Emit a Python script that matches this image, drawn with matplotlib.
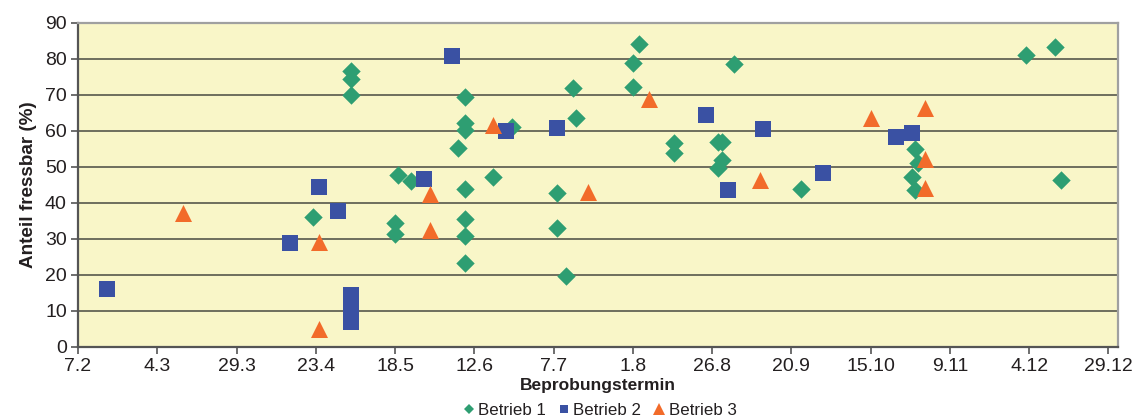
import matplotlib
matplotlib.use("Agg")
import matplotlib.pyplot as plt
from matplotlib.lines import Line2D

plt.rcParams['font.family'] = ['Liberation Sans', 'DejaVu Sans']

# Day of year (non-leap year) for the sampling dates, and share edible (%)
b1_day = [124, 124, 124, 112, 139, 138, 138, 143, 158, 160, 160, 160, 160, 160, 160, 160,
          169, 175, 189, 189, 192, 194, 195, 213, 215, 213, 226, 226, 240, 241, 241, 240,
          245, 266, 302, 303, 301, 302, 337, 346, 348]
b1_val = [76.7, 74.4, 70.0, 36.2, 47.8, 34.4, 31.4, 46.1, 55.4, 69.5, 62.1, 60.3, 43.9, 35.5, 30.8, 23.4,
          47.3, 61.2, 42.9, 33.1, 19.7, 71.8, 63.5, 79.0, 84.3, 72.3, 56.6, 54.0, 57.0, 57.0, 51.9, 49.6,
          78.5, 43.8, 55.0, 51.0, 47.2, 43.6, 81.1, 83.3, 46.4]

b2_day = [47, 105, 114, 120, 124, 124, 124, 124, 147, 156, 173, 189, 236, 243, 254, 273, 296, 301]
b2_val = [16.1, 28.9, 44.4, 37.8, 14.4, 11.8, 9.3, 6.9, 46.7, 80.9, 60.0, 60.9, 64.4, 43.6, 60.5, 48.3, 58.3, 59.4]

b3_day = [71, 114, 114, 149, 149, 169, 199, 218, 253, 288, 305, 305, 305]
b3_val = [37.1, 29.2, 5.0, 42.5, 32.5, 61.7, 43.0, 68.9, 46.4, 63.6, 66.4, 52.2, 44.2]

tick_days = [38, 63, 88, 113, 138, 163, 188, 213, 238, 263, 288, 313, 338, 363]
tick_labels = ['7.2', '4.3', '29.3', '23.4', '18.5', '12.6', '7.7', '1.8', '26.8',
               '20.9', '15.10', '9.11', '4.12', '29.12']

green = '#2E9E72'
blue = '#3A51A3'
orange = '#F26B2A'

fig = plt.figure(figsize=(11.35, 4.18), dpi=100)
ax = fig.add_axes([0.0687, 0.170, 0.9163, 0.775])
ax.set_facecolor('#F9F6C8')

ax.set_xlim(38, 366)
ax.set_ylim(0, 90)
ax.set_yticks(range(0, 91, 10))
ax.set_xticks(tick_days)
ax.set_xticklabels(tick_labels)
ax.grid(axis='y', color='#6E6E5E', linewidth=1.4)
ax.set_axisbelow(True)

ax.scatter(b1_day, b1_val, marker='D', s=88, color=green, linewidths=0, zorder=3)
ax.scatter(b2_day, b2_val, marker='s', s=118, color=blue, linewidths=0, zorder=3)
ax.scatter(b3_day, b3_val, marker='^', s=150, color=orange, linewidths=0, zorder=3)

for side in ['left', 'bottom']:
    ax.spines[side].set_color('#555555')
    ax.spines[side].set_linewidth(1.6)
for side in ['top', 'right']:
    ax.spines[side].set_color('#A0A0A0')
    ax.spines[side].set_linewidth(1.6)

ax.tick_params(axis='both', direction='out', length=5, width=1.2, color='#555555',
               labelsize=14, labelcolor='#231F20', pad=3)

ax.set_ylabel('Anteil fressbar (%)', fontsize=13.6, fontweight='bold', color='#231F20', labelpad=6)
ax.set_xlabel('Beprobungstermin', fontsize=12.5, fontweight='bold', color='#231F20', labelpad=2)

handles = [
    Line2D([], [], marker='D', linestyle='none', markersize=5.5, color=green, markeredgewidth=0),
    Line2D([], [], marker='s', linestyle='none', markersize=6, color=blue, markeredgewidth=0),
    Line2D([], [], marker='^', linestyle='none', markersize=8.5, color=orange, markeredgewidth=0),
]
fig.legend(handles, ['Betrieb 1', 'Betrieb 2', 'Betrieb 3'], loc='center',
           bbox_to_anchor=(0.527, 0.019), ncol=3, frameon=False, fontsize=12.2,
           handletextpad=0.0, columnspacing=0.5, handlelength=1.1, labelcolor='#231F20')

fig.savefig('out.png', dpi=100)
